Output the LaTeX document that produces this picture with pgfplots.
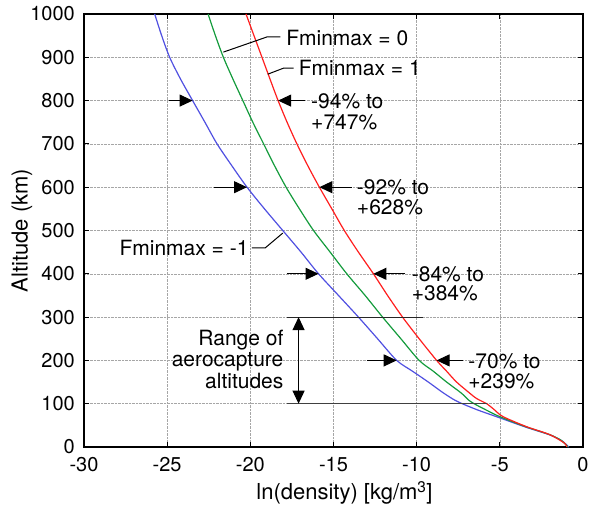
\documentclass[border=0pt]{standalone}
\usepackage{fontspec}
\setmainfont{TeX Gyre Heros}
\usepackage{pgfplots}
\pgfplotsset{compat=1.18}
\usetikzlibrary{arrows.meta}
\definecolor{cblue}{RGB}{80,80,225}
\definecolor{cgreen}{RGB}{20,155,60}
\definecolor{cred}{RGB}{255,30,30}
\newcommand{\annfont}{\fontsize{21}{23}\selectfont}

\pgfplotstableread{
x y
-25.75 1000
-25.33 950
-24.85 900
-24.20 850
-23.47 800
-22.73 750
-22.00 700
-21.12 650
-20.20 600
-19.15 550
-18.05 500
-16.95 450
-15.90 400
-14.70 350
-13.50 300
-12.35 250
-11.20 200
-10.25 175
-9.30 150
-8.40 125
-7.70 108
-7.20 99
-6.30 85
-5.20 70
-3.45 46
-2.00 28
-1.30 15
-0.85 0
}\blue

\pgfplotstableread{
x y
-22.54 1000
-22.10 950
-21.62 900
-21.05 850
-20.45 800
-19.85 750
-19.20 700
-18.55 650
-17.85 600
-17.05 550
-16.20 500
-15.20 450
-14.20 400
-13.10 350
-12.05 300
-10.95 250
-9.85 200
-9.00 175
-8.20 150
-7.30 124
-6.90 109
-6.50 99
-5.80 85
-5.00 70
-3.45 47
-2.00 28.5
-1.30 15
-0.90 0
}\green

\pgfplotstableread{
x y
-20.26 1000
-19.78 950
-19.30 900
-18.82 850
-18.33 800
-17.79 750
-17.20 700
-16.55 650
-15.85 600
-15.10 550
-14.35 500
-13.50 450
-12.60 400
-11.75 350
-10.85 300
-9.85 250
-8.80 200
-8.20 175
-7.60 150
-6.80 124
-6.40 112
-5.75 99
-5.30 85
-4.80 70
-3.40 47
-2.00 28.5
-1.10 8.5
-0.98 0
}\red

\begin{document}
\begin{tikzpicture}
\begin{axis}[
 scale only axis, width=499pt, height=433pt,
 xmin=-30, xmax=0, ymin=0, ymax=1000,
 xtick={-30,-25,...,0}, ytick={0,100,...,1000},
 grid=major, grid style={densely dotted, black!35, line width=0.5pt},
 axis line style={line width=1.1pt},
 tick style={line width=0.8pt, black}, major tick length=5pt,
 tick align=inside,
 /pgf/number format/assume math mode=true,
 /pgf/number format/1000 sep={},
 tick label style={font=\fontsize{20}{24}\selectfont},
 xticklabel style={anchor=north, inner sep=0pt, yshift=-10pt},
 yticklabel style={anchor=east, inner sep=0pt, xshift=-9pt},
 xlabel={ln(density) [kg/m\textsuperscript{3}]},
 ylabel={Altitude (km)},
 every axis x label/.style={at={(axis description cs:0.5,0)}, anchor=center, yshift=-46pt, xshift=11pt, font=\fontsize{22}{26}\selectfont},
 every axis y label/.style={at={(axis description cs:0,0.5)}, anchor=center, rotate=90, yshift=62pt, font=\fontsize{22}{26}\selectfont},
 clip=false,
]
\addplot[cblue, line width=1.2pt, smooth, tension=0.5] table[x=x,y=y] {\blue};
\addplot[cgreen, line width=1.2pt, smooth, tension=0.5] table[x=x,y=y] {\green};
\addplot[cred, line width=1.2pt, smooth, tension=0.5] table[x=x,y=y] {\red};

% range lines
\draw[line width=1.1pt, black!85] (axis cs:-17.8,300) -- (axis cs:-9.6,300);
\draw[line width=1.1pt, black!75] (axis cs:-17.8,100) -- (axis cs:-5.8,100);
\draw[line width=1pt, {Triangle[length=13pt,width=12pt]}-{Triangle[length=13pt,width=12pt]}] (axis cs:-17.1,300) -- (axis cs:-17.1,100);
\node[anchor=base east, inner sep=0pt, font=\annfont] at (axis cs:-18.0,234) {Range of};
\node[anchor=base east, inner sep=0pt, font=\annfont] at (axis cs:-18.0,185) {aerocapture};
\node[anchor=base east, inner sep=0pt, font=\annfont] at (axis cs:-18.0,136) {altitudes};

% arrows
\tikzset{ar/.style={line width=1pt, -{Triangle[length=13pt,width=12pt]}}}
\draw[ar] (axis cs:-16.7,800) -- (axis cs:-18.33,800);
\draw[ar] (axis cs:-24.9,800) -- (axis cs:-23.47,800);
\draw[ar] (axis cs:-13.9,600) -- (axis cs:-15.85,600);
\draw[ar] (axis cs:-22.2,600) -- (axis cs:-20.2,600);
\draw[ar] (axis cs:-10.7,400) -- (axis cs:-12.6,400);
\draw[ar] (axis cs:-17.8,400) -- (axis cs:-15.9,400);
\draw[ar] (axis cs:-7.2,200) -- (axis cs:-8.8,200);
\draw[ar] (axis cs:-13.0,200) -- (axis cs:-11.2,200);

% percent labels
\node[anchor=base west, inner sep=0pt, font=\annfont] at (axis cs:-16.35,782) {-94\% to};
\node[anchor=base west, inner sep=0pt, font=\annfont] at (axis cs:-16.35,734) {+747\%};
\node[anchor=base west, inner sep=0pt, font=\annfont] at (axis cs:-13.6,582) {-92\% to};
\node[anchor=base west, inner sep=0pt, font=\annfont] at (axis cs:-13.6,536) {+628\%};
\node[anchor=base west, inner sep=0pt, font=\annfont] at (axis cs:-10.3,382) {-84\% to};
\node[anchor=base west, inner sep=0pt, font=\annfont] at (axis cs:-10.3,338) {+384\%};
\node[anchor=base west, inner sep=0pt, font=\annfont] at (axis cs:-6.9,182) {-70\% to};
\node[anchor=base west, inner sep=0pt, font=\annfont] at (axis cs:-6.9,136) {+239\%};

% Fminmax labels
\draw[line width=1pt] (axis cs:-21.62,912) -- (axis cs:-19.0,947) -- (axis cs:-18.2,947);
\node[anchor=base west, inner sep=0pt, font=\annfont] at (axis cs:-17.85,928) {Fminmax = 0};
\draw[line width=1pt] (axis cs:-18.95,861) -- (axis cs:-18.0,875) -- (axis cs:-17.4,875);
\node[anchor=base west, inner sep=0pt, font=\annfont] at (axis cs:-17.1,857) {Fminmax = 1};
\draw[line width=1pt] (axis cs:-19.9,460) -- (axis cs:-19.1,460) -- (axis cs:-18.05,494);
\node[anchor=base east, inner sep=0pt, font=\annfont] at (axis cs:-20.1,443) {Fminmax = -1};
\end{axis}
\pgfresetboundingbox
\useasboundingbox ([shift={(-84pt,-61pt)}]current axis.south west) rectangle ([shift={(6pt,14pt)}]current axis.north east);
\end{tikzpicture}
\end{document}
